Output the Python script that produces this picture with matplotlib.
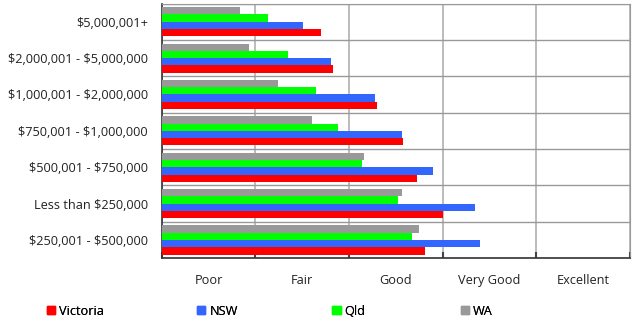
import matplotlib
matplotlib.use("Agg")
import matplotlib.pyplot as plt
import matplotlib.patches as mpatches
import numpy as np

plt.rcParams['font.family'] = ['Open Sans', 'DejaVu Sans']

# price bands, listed top to bottom
categorias = ['$5,000,001+', '$2,000,001 - $5,000,000', '$1,000,001 - $2,000,000',
              '$750,001 - $1,000,000', '$500,001 - $750,000', 'Less than $250,000',
              '$250,001 - $500,000']
notas = ['Poor', 'Fair', 'Good', 'Very Good', 'Excellent']

victoria = [1.70, 1.83, 2.30, 2.58, 2.73, 3.00, 2.81]
nsw = [1.51, 1.81, 2.28, 2.57, 2.90, 3.35, 3.40]
qld = [1.14, 1.35, 1.65, 1.88, 2.14, 2.52, 2.67]
wa = [0.84, 0.93, 1.24, 1.60, 2.16, 2.57, 2.75]

series = [('WA', wa, '#999999'), ('Qld', qld, '#00ff00'),
          ('NSW', nsw, '#3366ff'), ('Victoria', victoria, '#ff0000')]

fig = plt.figure(figsize=(6.34, 3.2), dpi=100)
ax = fig.add_axes([0.255, 0.193, 0.7387, 0.796])

y = np.arange(len(categorias))
altura = 0.2
offsets = [-0.3, -0.1, 0.1, 0.3]
for (nome, vals, cor), off in zip(series, offsets):
    ax.barh(y + off, vals, height=altura, color=cor, zorder=3)

ax.set_xlim(0, 5)
ax.set_ylim(len(categorias) - 0.5, -0.5)

# gridlines on the band edges, labels in the middle
ax.set_xticks(np.arange(0, 6))
ax.set_xticklabels([])
ax.set_xticks(np.arange(0.5, 5), minor=True)
ax.set_xticklabels(notas, minor=True)
ax.set_yticks(y)
# escape the dollar signs so they are not read as mathtext
ax.set_yticklabels([c.replace('$', r'\$') for c in categorias])
ax.set_yticks(np.arange(-0.5, len(categorias)), minor=True)

ax.grid(True, which='major', axis='x', color='#b0b0b0', linewidth=1.2, zorder=0)
ax.grid(True, which='minor', axis='y', color='#999999', linewidth=1, zorder=0)

ax.tick_params(axis='x', which='major', direction='in', length=4, width=1.5, color='#444444')
ax.tick_params(axis='x', which='minor', length=0, pad=11, labelsize=9.2, labelcolor='#222222')
ax.tick_params(axis='y', which='both', length=0, pad=10, labelsize=9.2, labelcolor='#222222')

for lado in ['top', 'right']:
    ax.spines[lado].set_color('#999999')
for lado in ['left', 'bottom']:
    ax.spines[lado].set_color('#333333')
    ax.spines[lado].set_linewidth(1.2)

# legend entries spread along the bottom
posicoes = {'Victoria': 0.074, 'NSW': 0.311, 'Qld': 0.524, 'WA': 0.727}
for nome, vals, cor in series:
    h = mpatches.Patch(color=cor)
    leg = fig.legend([h], [nome], loc='center left', bbox_to_anchor=(posicoes[nome], 0.028),
                     frameon=False, fontsize=9.2, handlelength=0.65, handleheight=0.65,
                     handletextpad=0.3, borderaxespad=0, borderpad=0)
    fig.add_artist(leg)

fig.savefig('out.png', dpi=100)
